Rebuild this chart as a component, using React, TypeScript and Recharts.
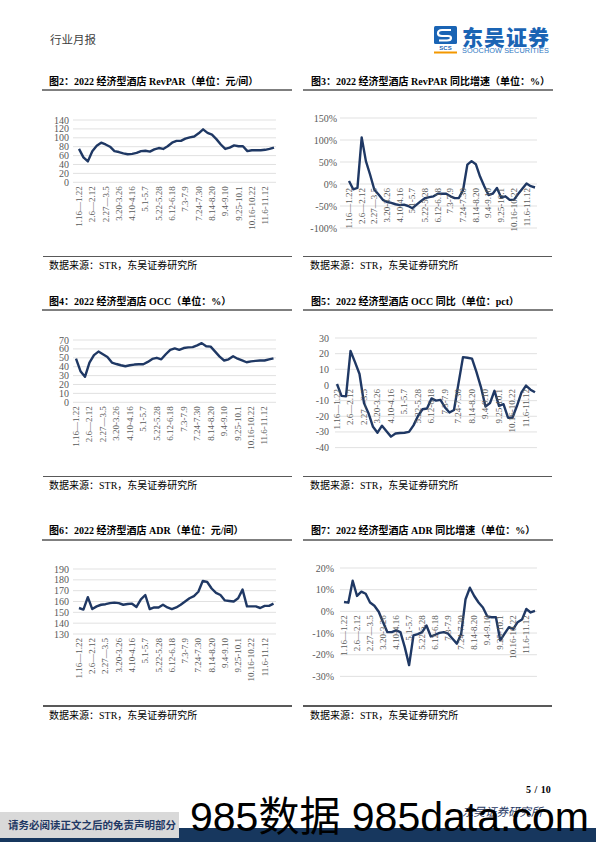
import React from 'react'
import { LineChart, Line, XAxis, YAxis, CartesianGrid } from 'recharts'

// weekly periods of 2022, every 3rd one is labelled
const weeks = [
    '1.16—1.22', '1.23-1.29', '1.30-2.5', '2.6—2.12', '2.13-2.19', '2.20-2.26', '2.27—3.5', '3.6-3.12', '3.13-3.19',
    '3.20-3.26', '3.27-4.2', '4.3-4.9', '4.10-4.16', '4.17-4.23', '4.24-4.30', '5.1-5.7', '5.8-5.14', '5.15-5.21',
    '5.22-5.28', '5.29-6.4', '6.5-6.11', '6.12-6.18', '6.19-6.25', '6.26-7.2', '7.3-7.9', '7.10-7.16', '7.17-7.23',
    '7.24-7.30', '7.31-8.6', '8.7-8.13', '8.14-8.20', '8.21-8.27', '8.28-9.3', '9.4-9.10', '9.11-9.17', '9.18-9.24',
    '9.25-10.1', '10.2-10.8', '10.9-10.15', '10.16-10.22', '10.23-10.29', '10.30-11.5', '11.6-11.12', '11.13-11.19',
    '11.20-11.26',
]

const revpar = [75, 56, 47, 70, 82, 89, 85, 80, 70, 68, 65, 63, 64, 66, 70, 71, 69, 74, 77, 75, 81, 89, 93, 93, 98, 101, 103, 110, 119, 111, 107, 97, 85, 75, 78, 83, 81, 81, 70, 72, 72, 72, 73, 75, 78]
const revparYoy = [7, -12, -9, 106, 52, 21, -13, -24, -36, -41, -43, -46, -48, -47, -50, -55, -47, -39, -32, -30, -28, -22, -22, -22, -28, -32, -32, -13, 44, 52, 45, 17, -5, -25, -22, -9, -31, -28, -36, -36, -23, -11, 1, -5, -8]
const occ = [49, 35, 28.6, 44.6, 53, 57, 54, 51, 44.6, 43, 41.6, 40.5, 41.6, 42.4, 42.8, 42.8, 45.4, 48.7, 50, 48.3, 54, 59, 60.6, 59, 61, 61.7, 62, 64, 66.5, 63, 62.5, 57, 51.3, 47, 48.3, 51.7, 49, 47, 45, 46, 46.5, 47, 47, 48.3, 49.4]
const occYoy = [0.6, -7, -7.3, 21.7, 14.6, 7, -11.6, -18, -26.7, -30.5, -26, -29.5, -33, -31, -30.7, -30.5, -30, -25.8, -19.8, -15.5, -15, -8.6, -10, -9.5, -14.4, -17.6, -16, 1, 17.8, 17.4, 16.8, 8.2, -1.5, -13.8, -11.6, -3.7, -13.3, -12.3, -20.9, -20.9, -13.3, -4.7, -0.4, -3, -4.7]
const adr = [154, 152.5, 164, 153, 155.5, 157, 157.5, 158.5, 159, 158.5, 157, 157.7, 158, 155, 162, 166, 153, 154.5, 154.5, 157, 154.5, 153, 154.5, 157, 160, 163, 165, 169, 179, 178, 172, 168, 166, 161, 160.5, 160, 163, 171, 155.5, 155.5, 155.5, 154, 156, 156, 158]
const adrYoy = [4.3, 4, 14.1, 7.1, 9.1, 8.1, 4.1, 2.6, -0.2, -5, -9.6, -9.6, -8.8, -9.6, -16.5, -24.8, -11.1, -10.5, -9.6, -6.5, -11.6, -10.8, -9.9, -9.6, -10.3, -12.6, -14.9, -10.3, 5.6, 10.9, 7.1, 4.1, 1.8, -2.3, -2.7, -2.7, -13.4, -10.3, -7.3, -8.1, -5, -3.8, 1.1, -0.5, 0.2]

const revparTicks = [0, 20, 40, 60, 80, 100, 120, 140]
const revparYoyTicks = [-100, -50, 0, 50, 100, 150]
const occTicks = [0, 10, 20, 30, 40, 50, 60, 70]
const occYoyTicks = [-40, -30, -20, -10, 0, 10, 20, 30]
const adrTicks = [130, 140, 150, 160, 170, 180, 190]
const adrYoyTicks = [-30, -20, -10, 0, 10, 20]

const serif = '"Liberation Serif", "Times New Roman", "Noto Sans CJK SC", serif'
const cjk = '"Noto Sans CJK SC", sans-serif'
const navy = '#1f3864'
const axisGray = '#595959'

const WeekTick = (props: any) => {
    const { x, y, payload, shift } = props
    const ty = y - shift + 4
    return (
        <text
            x={x}
            y={ty}
            transform={`rotate(-90, ${x}, ${ty})`}
            textAnchor="end"
            dy="0.33em"
            fontSize={9}
            fill={axisGray}
            fontFamily={serif}
        >
            {payload.value}
        </text>
    )
}

interface PanelProps {
    values: number[]
    plot: { x: number; y: number; w: number; h: number }
    domain: [number, number]
    ticks: number[]
    unit?: string
    padLeft: number
    padRight: number
    labelGap: number
}

const Panel: React.FC<PanelProps> = ({ values, plot, domain, ticks, unit = '', padLeft, padRight, labelGap }) => {
    const data = weeks.map((w, i) => ({ week: w, v: values[i] }))
    const yW = 40
    const mt = 6
    const xH = 60
    // category labels hang from the zero line
    const shift = domain[0] < 0 ? (plot.h * (0 - domain[0])) / (domain[1] - domain[0]) : 0
    return (
        <div style={{ position: 'absolute', left: plot.x - yW, top: plot.y - mt }}>
            <LineChart
                width={yW + plot.w + 2}
                height={mt + plot.h + xH}
                data={data}
                margin={{ top: mt, right: 2, bottom: 0, left: 0 }}
            >
                <CartesianGrid vertical={false} stroke="#d9d9d9" strokeWidth={0.8} />
                <XAxis
                    dataKey="week"
                    interval={2}
                    axisLine={false}
                    tickLine={false}
                    tickSize={0}
                    tickMargin={0}
                    height={xH}
                    padding={{ left: padLeft, right: padRight }}
                    tick={(p: any) => <WeekTick {...p} shift={shift} />}
                />
                <YAxis
                    domain={domain}
                    ticks={ticks}
                    interval={0}
                    width={yW}
                    axisLine={false}
                    tickLine={false}
                    tickSize={0}
                    tickMargin={labelGap}
                    tickFormatter={(v: number) => `${v}${unit}`}
                    tick={{ fontSize: 10, fill: axisGray, fontFamily: serif }}
                />
                <Line
                    type="linear"
                    dataKey="v"
                    stroke={navy}
                    strokeWidth={2.4}
                    strokeLinejoin="round"
                    dot={false}
                    isAnimationActive={false}
                />
            </LineChart>
        </div>
    )
}

const Txt: React.FC<{ x: number; cy: number; size: number; children: React.ReactNode; style?: React.CSSProperties }> = ({ x, cy, size, children, style }) => (
    <div
        style={{
            position: 'absolute',
            left: x,
            top: cy,
            transform: 'translateY(-50%)',
            fontSize: size,
            lineHeight: 1,
            whiteSpace: 'nowrap',
            fontFamily: serif,
            color: '#000',
            ...style,
        }}
    >
        {children}
    </div>
)

const Rule: React.FC<{ x: number; y: number; w: number; h: number; color: string }> = ({ x, y, w, h, color }) => (
    <div style={{ position: 'absolute', left: x, top: y, width: w, height: h, background: color }} />
)

const Title: React.FC<{ x: number; cy: number; children: React.ReactNode }> = ({ x, cy, children }) => (
    <Txt x={x} cy={cy} size={10} style={{ fontWeight: 700 }}>
        {children}
    </Txt>
)

const Source: React.FC<{ x: number; cy: number }> = ({ x, cy }) => (
    <Txt x={x} cy={cy} size={10}>
        数据来源：STR，东吴证券研究所
    </Txt>
)

export default function App() {
    return (
        <div
            style={{
                position: 'absolute',
                left: 0,
                top: 0,
                width: 596,
                height: 842,
                background: '#fff',
                overflow: 'hidden',
            }}
        >
            {/* header */}
            <Txt x={50} cy={40} size={11.5} style={{ fontFamily: cjk, color: '#404040' }}>
                行业月报
            </Txt>
            <svg style={{ position: 'absolute', left: 434, top: 26 }} width={24} height={28}>
                <rect x={0} y={0} width={23} height={18} rx={1.5} fill="#1a64b4" />
                <path d="M17 4 L8 4 Q4 4 4 7.5 Q4 10 8 10 L14 10 Q17 10 17 12 Q17 14.5 13 14.5 L5 14.5" stroke="#fff" strokeWidth={2.2} fill="none" />
                <text x={11.5} y={24} fontSize={6} fontWeight={700} textAnchor="middle" fill="#1a64b4" fontFamily='"Liberation Sans", sans-serif'>SCS</text>
                <rect x={0} y={25.5} width={23} height={2} fill="#f39800" />
            </svg>
            <Txt x={462} cy={36} size={21} style={{ fontFamily: cjk, fontWeight: 900, color: '#1a64b4', letterSpacing: 1 }}>
                东吴证券
            </Txt>
            <Txt x={462} cy={50.5} size={7.3} style={{ fontFamily: '"Liberation Sans", sans-serif', color: '#2f77c2', letterSpacing: 0.1 }}>
                SOOCHOW SECURITIES
            </Txt>

            {/* row 1 */}
            <Title x={49} cy={82}>图2：2022 经济型酒店 RevPAR（单位：元/间）</Title>
            <Title x={311} cy={82}>图3：2022 经济型酒店 RevPAR 同比增速（单位：%）</Title>
            <Rule x={42} y={89} w={250} h={2} color="#7f7f7f" />
            <Rule x={303} y={89} w={250} h={2} color="#7f7f7f" />
            <Panel values={revpar} plot={{ x: 73, y: 120, w: 203, h: 62.3 }} domain={[0, 140]} ticks={revparTicks} padLeft={6} padRight={2} labelGap={4} />
            <Panel values={revparYoy} plot={{ x: 340, y: 118.3, w: 197, h: 110 }} domain={[-100, 150]} ticks={revparYoyTicks} unit="%" padLeft={9} padRight={2} labelGap={3} />
            <Rule x={43} y={255.5} w={249} h={1.6} color="#595959" />
            <Rule x={303} y={255.5} w={249} h={1.6} color="#595959" />
            <Source x={49} cy={266} />
            <Source x={310} cy={266} />

            {/* row 2 */}
            <Title x={49} cy={302}>图4：2022 经济型酒店 OCC（单位：%）</Title>
            <Title x={311} cy={302}>图5：2022 经济型酒店 OCC 同比（单位：pct）</Title>
            <Rule x={42} y={309} w={250} h={2} color="#7f7f7f" />
            <Rule x={303} y={309} w={250} h={2} color="#7f7f7f" />
            <Panel values={occ} plot={{ x: 73, y: 340, w: 203, h: 62.3 }} domain={[0, 70]} ticks={occTicks} padLeft={3} padRight={2.5} labelGap={4} />
            <Panel values={occYoy} plot={{ x: 335, y: 337.7, w: 202, h: 109.6 }} domain={[-40, 30]} ticks={occYoyTicks} padLeft={2} padRight={2} labelGap={6} />
            <Rule x={43} y={475.5} w={249} h={1.6} color="#595959" />
            <Rule x={303} y={475.5} w={249} h={1.6} color="#595959" />
            <Source x={49} cy={486} />
            <Source x={310} cy={486} />

            {/* row 3 */}
            <Title x={49} cy={531}>图6：2022 经济型酒店 ADR（单位：元/间）</Title>
            <Title x={311} cy={531}>图7：2022 经济型酒店 ADR 同比增速（单位：%）</Title>
            <Rule x={42} y={539} w={250} h={2} color="#7f7f7f" />
            <Rule x={303} y={539} w={250} h={2} color="#7f7f7f" />
            <Panel values={adr} plot={{ x: 73, y: 569.3, w: 203, h: 65 }} domain={[130, 190]} ticks={adrTicks} padLeft={6} padRight={2.5} labelGap={4} />
            <Panel values={adrYoy} plot={{ x: 340, y: 568.3, w: 197, h: 108.4 }} domain={[-30, 20]} ticks={adrYoyTicks} unit="%" padLeft={4} padRight={2} labelGap={6} />
            <Rule x={43} y={705} w={249} h={1.6} color="#595959" />
            <Rule x={303} y={705} w={249} h={1.6} color="#595959" />
            <Source x={49} cy={715.5} />
            <Source x={310} cy={715.5} />

            {/* footer */}
            <Txt x={526} cy={790} size={10} style={{ fontWeight: 700, wordSpacing: 1 }}>
                5 / 10
            </Txt>
            <Rule x={0} y={828} w={596} h={14} color="#17375e" />
            <Rule x={0} y={812} w={179} h={26} color="#d9d9d9" />
            <Txt x={8} cy={825} size={10.5} style={{ fontFamily: cjk, fontWeight: 700, color: navy }}>
                请务必阅读正文之后的免责声明部分
            </Txt>
            <Txt x={462} cy={812} size={11.5} style={{ fontFamily: cjk, color: navy, fontStyle: 'italic' }}>
                东吴证券研究所
            </Txt>
            <div
                style={{
                    position: 'absolute',
                    left: 190,
                    top: 797,
                    fontSize: 41,
                    lineHeight: 1,
                    whiteSpace: 'nowrap',
                    fontFamily: '"Liberation Sans", "Noto Sans CJK SC", sans-serif',
                    color: '#000',
                }}
            >
                985数据 985data.com
            </div>
        </div>
    )
}
